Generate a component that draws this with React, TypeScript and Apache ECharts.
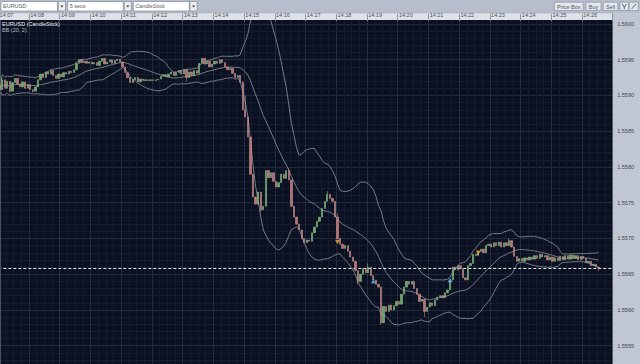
import React, { useEffect, useRef } from "react";
import * as echarts from "echarts";

// ---- tick / category labels ----
const minuteLabels = ["14:07", "14:08", "14:09", "14:10", "14:11", "14:12", "14:13", "14:14", "14:15", "14:16",
  "14:17", "14:18", "14:19", "14:20", "14:21", "14:22", "14:23", "14:24", "14:25", "14:26"];
const secondLabels = ["00", "05", "10", "15", "20", "25", "30", "35", "40", "45", "50", "55"];

// ---- EURUSD 5-second closes, one array per minute ----
const c1407 = [1.55908, 1.55922, 1.5591, 1.5592, 1.55906, 1.55918, 1.55924, 1.55916, 1.55912, 1.55919, 1.5591, 1.55915];
const c1408 = [1.55908, 1.55906, 1.55912, 1.55922, 1.5593, 1.55925, 1.55933, 1.5593, 1.55935, 1.55928, 1.55924, 1.5593];
const c1409 = [1.55926, 1.55932, 1.5593, 1.55934, 1.55932, 1.55936, 1.55945, 1.5595, 1.55946, 1.55948, 1.55945, 1.55947];
const c1410 = [1.55944, 1.55946, 1.55942, 1.55948, 1.55952, 1.55944, 1.55947, 1.5595, 1.55945, 1.55949, 1.55951, 1.55947];
const c1411 = [1.5594, 1.55932, 1.55925, 1.55918, 1.55922, 1.55925, 1.55919, 1.55923, 1.55921, 1.55922, 1.55921, 1.55922];
const c1412 = [1.55921, 1.55922, 1.55923, 1.55927, 1.55929, 1.55926, 1.5593, 1.55933, 1.55928, 1.55932, 1.55935, 1.5593];
const c1413 = [1.55936, 1.55925, 1.55933, 1.55928, 1.55935, 1.55931, 1.55945, 1.55952, 1.55944, 1.55948, 1.5594, 1.55944];
const c1414 = [1.55948, 1.55945, 1.5595, 1.55946, 1.5594, 1.55936, 1.55938, 1.55931, 1.55925, 1.55928, 1.55918, 1.5588];
const c1415 = [1.5587, 1.55842, 1.5579, 1.55758, 1.55748, 1.55765, 1.5574, 1.55745, 1.55795, 1.55785, 1.55792, 1.5578];
const c1416 = [1.55772, 1.55778, 1.5579, 1.55784, 1.55795, 1.55782, 1.55745, 1.5573, 1.5572, 1.55712, 1.557, 1.55694];
const c1417 = [1.55698, 1.55696, 1.55708, 1.55716, 1.55724, 1.5573, 1.55742, 1.55752, 1.55762, 1.55756, 1.55752, 1.5573];
const c1418 = [1.557, 1.55692, 1.55686, 1.5569, 1.55682, 1.55674, 1.55668, 1.55655, 1.5564, 1.5565, 1.55658, 1.55652];
const c1419 = [1.5566, 1.55648, 1.55642, 1.55636, 1.55632, 1.55582, 1.55605, 1.55598, 1.55607, 1.556, 1.55606, 1.55612];
const c1420 = [1.55608, 1.55622, 1.55632, 1.5564, 1.55636, 1.5564, 1.5563, 1.55622, 1.55612, 1.55615, 1.55598, 1.55604];
const c1421 = [1.5561, 1.55606, 1.55614, 1.55618, 1.5562, 1.55617, 1.55624, 1.55628, 1.55642, 1.5566, 1.55656, 1.55662];
const c1422 = [1.55658, 1.55645, 1.55642, 1.55662, 1.55665, 1.55678, 1.55676, 1.55682, 1.55685, 1.5568, 1.5569, 1.55692];
const c1423 = [1.55688, 1.55694, 1.5569, 1.55695, 1.55688, 1.55694, 1.5569, 1.55697, 1.55688, 1.55675, 1.55668, 1.55672];
const c1424 = [1.55668, 1.55673, 1.5567, 1.55674, 1.55671, 1.55676, 1.55672, 1.55678, 1.55674, 1.55676, 1.5567, 1.55674];
const c1425 = [1.55668, 1.55673, 1.55669, 1.55675, 1.5567, 1.55676, 1.55671, 1.55677, 1.55672, 1.55676, 1.5567, 1.55675];
const c1426 = [1.55672, 1.55666, 1.55668, 1.55662, 1.55664, 1.5566, 1.55659];
const firstOpen = 1.55915;

// wick extremes [candle index, price]
const wickTips: [number, number][] = [
  [1, 1.55925], [4, 1.55904], [13, 1.55904], [73, 1.5592], [95, 1.5592], [96, 1.559], [102, 1.55737],
  [113, 1.55798], [128, 1.55766], [132, 1.55735], [140, 1.55636], [144, 1.55665], [149, 1.55579],
  [166, 1.5559], [199, 1.557], [234, 1.55655],
];

// trade signals [candle index, price]
const sellSignals: [number, number][] = [[132, 1.55695], [187, 1.5568]];
const buySignals: [number, number][] = [[146, 1.5564], [176, 1.55642]];

// indicator settings shown in the legend "BB (20, 2)"
const bbPeriod = 20;
const bbMult = 2;

// price axis
const priceMin = 1.555;
const priceMax = 1.5605;
const priceStep = 0.0005;

const FONT = "'Liberation Sans', Arial, sans-serif";

function buildOption() {
  const categories = minuteLabels.flatMap((m) => secondLabels.map((s) => `${m}:${s}`));
  const closes = [
    ...c1407, ...c1408, ...c1409, ...c1410, ...c1411, ...c1412, ...c1413, ...c1414, ...c1415, ...c1416,
    ...c1417, ...c1418, ...c1419, ...c1420, ...c1421, ...c1422, ...c1423, ...c1424, ...c1425, ...c1426,
  ];
  const candles = closes.map((c, i) => {
    const o = i === 0 ? firstOpen : closes[i - 1];
    return [o, c, Math.min(o, c), Math.max(o, c)];
  });
  wickTips.forEach(([i, p]) => {
    if (p > candles[i][3]) candles[i][3] = p;
    else if (p < candles[i][2]) candles[i][2] = p;
  });

  const upper: number[] = [];
  const mid: number[] = [];
  const lower: number[] = [];
  closes.forEach((_, i) => {
    const w = closes.slice(Math.max(0, i - bbPeriod + 1), i + 1);
    const m = w.reduce((a, b) => a + b, 0) / w.length;
    const sd = Math.sqrt(w.reduce((a, b) => a + (b - m) * (b - m), 0) / w.length);
    mid.push(m);
    upper.push(m + bbMult * sd);
    lower.push(m - bbMult * sd);
  });
  const lastClose = closes[closes.length - 1];

  const gridL = -1.7;
  const gridW = 614.4;
  const plotR = gridL + gridW;
  const minorC = "#141d2f";
  const majorC = "#222c40";
  const btnStroke = "#8c94a3";
  const bandC = "#80848c";

  const box = (x: number, w: number, label: string) => [
    { type: "rect", z: 51, silent: true, shape: { x, y: 1.5, width: w, height: 9.5 }, style: { fill: "#ffffff", stroke: "#7f8797", lineWidth: 0.7 } },
    { type: "text", z: 52, silent: true, style: { text: label, x: x + 2, y: 6.4, fill: "#555a64", font: `5.5px ${FONT}`, textAlign: "left", textVerticalAlign: "middle" } },
  ];
  const dropBtn = (x: number) => [
    { type: "rect", z: 51, silent: true, shape: { x, y: 1.5, width: 7.2, height: 9.5 }, style: { fill: "#eceef2", stroke: "#7f8797", lineWidth: 0.7 } },
    { type: "polygon", z: 52, silent: true, shape: { points: [[x + 2.1, 5.4], [x + 5.1, 5.4], [x + 3.6, 7.4]] }, style: { fill: "#333" } },
  ];
  const btn = (x: number, w: number, label: string) => [
    { type: "rect", z: 51, silent: true, shape: { x, y: 2.2, width: w, height: 8.3 }, style: { fill: "#e3e6ec", stroke: btnStroke, lineWidth: 0.7 } },
    { type: "text", z: 52, silent: true, style: { text: label, x: x + w / 2, y: 6.5, fill: "#50555f", font: `5.5px ${FONT}`, textAlign: "center", textVerticalAlign: "middle" } },
  ];

  const graphic: any[] = [
    { type: "rect", z: 50, silent: true, shape: { x: 0, y: 0, width: 640, height: 13 }, style: { fill: "#b6bdcb" } },
    { type: "rect", z: 50, silent: true, shape: { x: 0, y: 12.8, width: plotR, height: 7.2 }, style: { fill: "#dee1e7" } },
    { type: "line", z: 51, silent: true, shape: { x1: 0, y1: 12.8, x2: plotR, y2: 12.8 }, style: { stroke: "#9aa1ae", lineWidth: 0.6 } },
    { type: "rect", z: 50, silent: true, shape: { x: plotR, y: 12.8, width: 640 - plotR, height: 352 }, style: { fill: "#c1c7d2" } },
    { type: "line", z: 51, silent: true, shape: { x1: 0.5, y1: 20, x2: 0.5, y2: 364 }, style: { stroke: "#4d5464", lineWidth: 1 } },
    ...box(1, 56.5, "EURUSD"),
    ...dropBtn(58.3),
    ...box(67.7, 55.6, "5 secs"),
    ...dropBtn(124.2),
    ...box(133.3, 56, "CandleStick"),
    ...dropBtn(190),
    ...btn(554.3, 29, "Price Box"),
    ...btn(586, 15, "Buy"),
    ...btn(603.3, 14.4, "Sell"),
    { type: "rect", z: 51, silent: true, shape: { x: 620, y: 2.2, width: 8.6, height: 8.3 }, style: { fill: "#e3e6ec", stroke: btnStroke, lineWidth: 0.7 } },
    { type: "rect", z: 51, silent: true, shape: { x: 629.3, y: 2.2, width: 9, height: 8.3 }, style: { fill: "#e3e6ec", stroke: btnStroke, lineWidth: 0.7 } },
    { type: "polyline", z: 52, silent: true, shape: { points: [[622.3, 4], [624.3, 7.3], [626.3, 4]] }, style: { stroke: "#3c4049", lineWidth: 0.8, fill: null } },
    { type: "line", z: 52, silent: true, shape: { x1: 624.3, y1: 7.3, x2: 624.3, y2: 9.2 }, style: { stroke: "#3c4049", lineWidth: 0.8 } },
    { type: "line", z: 52, silent: true, shape: { x1: 631.8, y1: 8.8, x2: 636, y2: 4 }, style: { stroke: "#3c4049", lineWidth: 0.8 } },
    { type: "text", z: 70, silent: true, style: { text: "EURUSD (CandleStick)", x: 2, y: 20.6, fill: "#eeeeee", font: `5.5px ${FONT}`, textAlign: "left", textVerticalAlign: "top" } },
    { type: "text", z: 70, silent: true, style: { text: `BB (${bbPeriod}, ${bbMult})`, x: 2, y: 26.7, fill: "#b9bdc4", font: `5.5px ${FONT}`, textAlign: "left", textVerticalAlign: "top" } },
  ];

  return {
    animation: false,
    backgroundColor: "#b6bdcb",
    textStyle: { fontFamily: FONT },
    graphic,
    grid: [
      { left: gridL, width: gridW, top: -11.74, height: 393.18, show: true, backgroundColor: "#0b1121", borderWidth: 0, containLabel: false, outerBoundsMode: "none" },
      { left: gridL, width: gridW, top: 20, height: 1, show: false, containLabel: false, outerBoundsMode: "none" },
    ],
    xAxis: [
      {
        gridIndex: 0, type: "category", data: categories, boundaryGap: true, position: "top",
        axisLine: { show: false }, axisTick: { show: false }, axisLabel: { show: false },
        splitLine: { show: true, interval: (i: number) => i % 3 === 0 && i % 12 !== 0, lineStyle: { color: minorC, width: 1 } },
      },
      {
        gridIndex: 0, type: "category", data: categories, boundaryGap: true, position: "top",
        axisLine: { show: false }, axisTick: { show: false }, axisLabel: { show: false },
        splitLine: { show: true, interval: (i: number) => i % 12 === 0, lineStyle: { color: majorC, width: 1 } },
      },
      {
        gridIndex: 1, type: "category", data: categories, boundaryGap: true, position: "top", z: 70,
        axisLine: { show: false },
        axisTick: { show: true, interval: (i: number) => i % 12 === 0, length: 7.2, lineStyle: { color: "#8f97a5", width: 1 } },
        axisLabel: {
          show: true, interval: (i: number) => i % 12 === 0, formatter: (v: string) => v.slice(0, 5),
          align: "left", fontSize: 5.5, color: "#4a4f59", margin: 1.6, fontFamily: FONT,
        },
        splitLine: { show: false },
      },
    ],
    yAxis: [
      {
        gridIndex: 0, type: "value", min: priceMin, max: priceMax, interval: priceStep, position: "right",
        axisLine: { show: false }, axisTick: { show: false }, axisLabel: { show: false },
        splitLine: { show: true, lineStyle: { color: majorC, width: 1 } },
        minorTick: { show: false, splitNumber: 5 },
        minorSplitLine: { show: true, lineStyle: { color: minorC, width: 1 } },
      },
      {
        gridIndex: 0, type: "value", min: priceMin, max: priceMax, interval: priceStep, position: "right", z: 70,
        axisLine: { show: false }, axisTick: { show: false }, splitLine: { show: false },
        axisLabel: {
          show: true, showMinLabel: false, showMaxLabel: false,
          formatter: (v: number) => v.toFixed(4), fontSize: 5.5, color: "#3e434d", margin: 4.5, fontFamily: FONT,
        },
      },
      { gridIndex: 1, type: "value", show: false },
    ],
    series: [
      {
        type: "line", xAxisIndex: 0, yAxisIndex: 0, data: upper, showSymbol: false, z: 3, silent: true,
        lineStyle: { color: bandC, width: 0.9 },
      },
      {
        type: "line", xAxisIndex: 0, yAxisIndex: 0, data: mid, showSymbol: false, z: 3, silent: true,
        lineStyle: { color: bandC, width: 0.9 },
      },
      {
        type: "line", xAxisIndex: 0, yAxisIndex: 0, data: lower, showSymbol: false, z: 3, silent: true,
        lineStyle: { color: bandC, width: 0.9 },
      },
      {
        type: "candlestick", xAxisIndex: 0, yAxisIndex: 0, data: candles, barWidth: 1.8, z: 60,
        itemStyle: { color: "#64ad5e", color0: "#bb7070", borderColor: "#9bc795", borderColor0: "#d4a0a0", borderWidth: 0.5 },
      },
      {
        type: "line", xAxisIndex: 0, yAxisIndex: 0, data: closes, showSymbol: false, z: 62, silent: true,
        lineStyle: { opacity: 0, width: 0 },
        markLine: {
          silent: true, symbol: ["none", "none"], animation: false, precision: 5,
          data: [{ yAxis: lastClose }],
          lineStyle: { color: "#e4e4e4", width: 1, type: [3, 2], opacity: 1 },
          label: {
            show: true, position: "end", distance: 0.3,
            formatter: (p: any) => Number(p.value).toFixed(4),
            backgroundColor: "#a6b0c3", color: "#333844", fontSize: 5.5, fontFamily: FONT,
            padding: [2, 6, 1.5, 4.5],
          },
        },
      },
      {
        type: "scatter", xAxisIndex: 0, yAxisIndex: 0, data: sellSignals, symbol: "triangle", symbolRotate: 180,
        symbolSize: [5, 4.5], z: 61, itemStyle: { color: "#f2a83a" }, silent: true,
      },
      {
        type: "scatter", xAxisIndex: 0, yAxisIndex: 0, data: buySignals, symbol: "triangle",
        symbolSize: [5, 4.5], z: 61, itemStyle: { color: "#5cb6ef" }, silent: true,
      },
    ],
  };
}

export default function App() {
  const ref = useRef<HTMLDivElement>(null);
  useEffect(() => {
    if (!ref.current) return;
    const chart = echarts.init(ref.current, null, { renderer: "svg" });
    chart.setOption(buildOption() as any);
    return () => chart.dispose();
  }, []);
  return <div ref={ref} style={{ position: "absolute", left: 0, top: 0, width: 640, height: 364 }} />;
}
